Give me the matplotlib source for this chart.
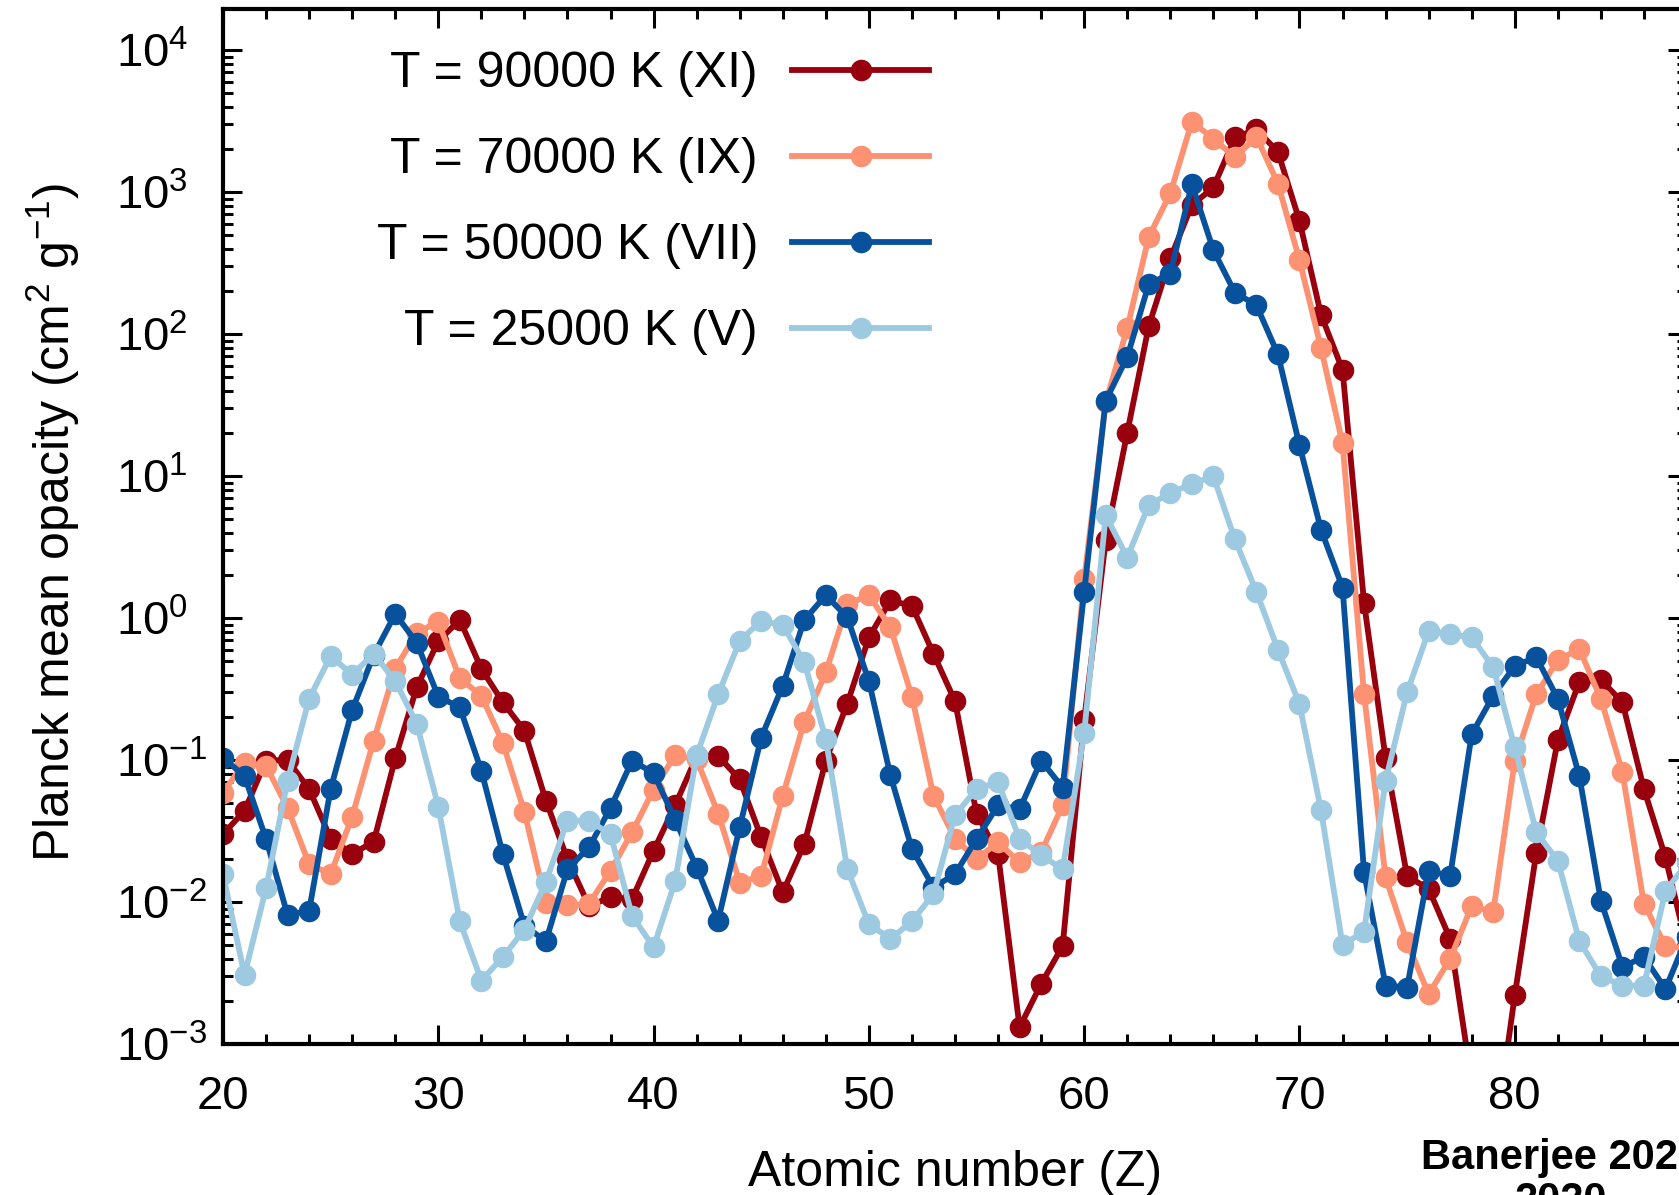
import numpy as np
import matplotlib
matplotlib.use("Agg")
import matplotlib.pyplot as plt
from matplotlib.ticker import MultipleLocator, LogLocator, NullFormatter

plt.rcParams['font.family'] = ['Liberation Sans', 'DejaVu Sans']
plt.rcParams['mathtext.fontset'] = 'custom'
plt.rcParams['mathtext.rm'] = 'Liberation Sans'
plt.rcParams['mathtext.it'] = 'Liberation Sans:italic'
plt.rcParams['mathtext.default'] = 'regular'

# atomic number
Z = np.arange(20, 89)

# Planck mean opacity (cm^2 g^-1)
k90 = [0.030, 0.044, 0.099, 0.10, 0.0625, 0.028, 0.0218, 0.0266, 0.103, 0.325,
       0.69, 0.97, 0.44, 0.255, 0.161, 0.0517, 0.020, 0.0094, 0.0108, 0.0105,
       0.023, 0.048, 0.106, 0.107, 0.073, 0.0285, 0.0117, 0.0256, 0.099, 0.25,
       0.73, 1.33, 1.22, 0.56, 0.26, 0.042, 0.0218, 0.00131, 0.00265, 0.0049,
       0.192, 3.54, 20.2, 114, 341, 810, 1079, 2427, 2763, 1923,
       628, 137, 56, 1.28, 0.103, 0.0152, 0.0124, 0.0055, 0.00054, 0.00018,
       0.0022, 0.0222, 0.138, 0.356, 0.368, 0.255, 0.0625, 0.0206, 0.0048]
k70 = [0.059, 0.096, 0.091, 0.046, 0.0185, 0.0157, 0.040, 0.137, 0.44, 0.79,
       0.94, 0.376, 0.284, 0.132, 0.043, 0.0099, 0.0095, 0.0097, 0.0166, 0.031,
       0.062, 0.108, 0.101, 0.042, 0.0137, 0.0153, 0.056, 0.186, 0.414, 1.25,
       1.45, 0.86, 0.28, 0.056, 0.028, 0.0201, 0.0263, 0.019, 0.0224, 0.048,
       1.88, 33, 110, 484, 980, 3126, 2386, 1755, 2455, 1150,
       332, 80, 17, 0.29, 0.0149, 0.0052, 0.00225, 0.00397, 0.0094, 0.0085,
       0.099, 0.29, 0.506, 0.605, 0.27, 0.082, 0.0097, 0.0049, 0.0047]
k50 = [0.104, 0.077, 0.0278, 0.0081, 0.0087, 0.0625, 0.225, 0.55, 1.07, 0.67,
       0.28, 0.235, 0.084, 0.0218, 0.0068, 0.0053, 0.017, 0.0243, 0.046, 0.099,
       0.081, 0.038, 0.0175, 0.0074, 0.0336, 0.144, 0.334, 0.97, 1.45, 1.01,
       0.36, 0.078, 0.0236, 0.0127, 0.0157, 0.0278, 0.048, 0.045, 0.099, 0.064,
       1.53, 34, 69, 225, 267, 1138, 391, 196, 160, 72,
       16.5, 4.2, 1.64, 0.0162, 0.00258, 0.0025, 0.0166, 0.0153, 0.152, 0.284,
       0.46, 0.53, 0.27, 0.077, 0.0102, 0.0035, 0.0041, 0.00244, 0.0057]
k25 = [0.0157, 0.00306, 0.0125, 0.0715, 0.27, 0.54, 0.40, 0.56, 0.36, 0.18,
       0.047, 0.0073, 0.0028, 0.0041, 0.0064, 0.0139, 0.0374, 0.0374, 0.030, 0.008,
       0.0048, 0.014, 0.108, 0.29, 0.69, 0.96, 0.89, 0.49, 0.14, 0.017,
       0.007, 0.0055, 0.0073, 0.0114, 0.041, 0.0625, 0.070, 0.0278, 0.0214, 0.017,
       0.155, 5.3, 2.67, 6.25, 7.6, 8.8, 10.0, 3.58, 1.53, 0.60,
       0.248, 0.0445, 0.00498, 0.0062, 0.0715, 0.30, 0.81, 0.77, 0.73, 0.45,
       0.123, 0.031, 0.0195, 0.0053, 0.0030, 0.00258, 0.00258, 0.012, 0.0187]

labels = ['T = 90000 K (XI)', 'T = 70000 K (IX)', 'T = 50000 K (VII)', 'T = 25000 K (V)']
colors = ['#99000d', '#fc9272', '#08519c', '#9ecae1']

W, H = 1679, 1195
fig = plt.figure(figsize=(W/100, H/100), dpi=100)
ax = fig.add_axes([223/W, 151/H, (1687-223)/W, (1186-151)/H])

for k, lab, c in zip([k90, k70, k50, k25], labels, colors):
    ax.plot(Z, k, '-o', color=c, lw=4.2, ms=14.5, mec=c, label=lab)

ax.set_yscale('log')
ax.set_xlim(20, 88)
ax.set_ylim(1e-3, 1.95e4)
ax.set_xticks(np.arange(20, 90, 10))
ax.xaxis.set_minor_locator(MultipleLocator(2))
ax.yaxis.set_major_locator(LogLocator(base=10, numticks=20))
ax.yaxis.set_minor_locator(LogLocator(base=10, subs=np.arange(2, 10), numticks=20))
ax.yaxis.set_minor_formatter(NullFormatter())

ax.tick_params(which='both', direction='in', top=True, right=True, width=2.2)
ax.tick_params(which='major', length=14, labelsize=34)
ax.tick_params(axis='x', which='major', pad=22)
ax.tick_params(axis='y', which='major', pad=77)
ax.tick_params(which='minor', length=7)
for t in ax.yaxis.get_major_ticks():
    t.label1.set_horizontalalignment('left')
for s in ax.spines.values():
    s.set_linewidth(3)

ax.set_xlabel('Atomic number (Z)', fontsize=36, va='center')
ax.xaxis.set_label_coords(0.5, -0.125)
ax.set_ylabel(r'Planck mean opacity (cm$^2$ g$^{-1}$)', fontsize=36, va='center')
ax.yaxis.set_label_coords(-0.116, 0.504)

ax.legend(loc='upper right', bbox_to_anchor=(929/W, 1-51/H), bbox_transform=fig.transFigure,
          frameon=False, markerfirst=False, numpoints=1, handlelength=2.74,
          handletextpad=0.68, labelspacing=0.8, borderpad=0, borderaxespad=0, fontsize=36)

fig.text(1561/W, 1-1138/H, 'Banerjee 2020\n2020', fontsize=30, fontweight='bold',
         ha='center', va='top', multialignment='center', linespacing=1.1)

fig.savefig('out.png', dpi=100)
